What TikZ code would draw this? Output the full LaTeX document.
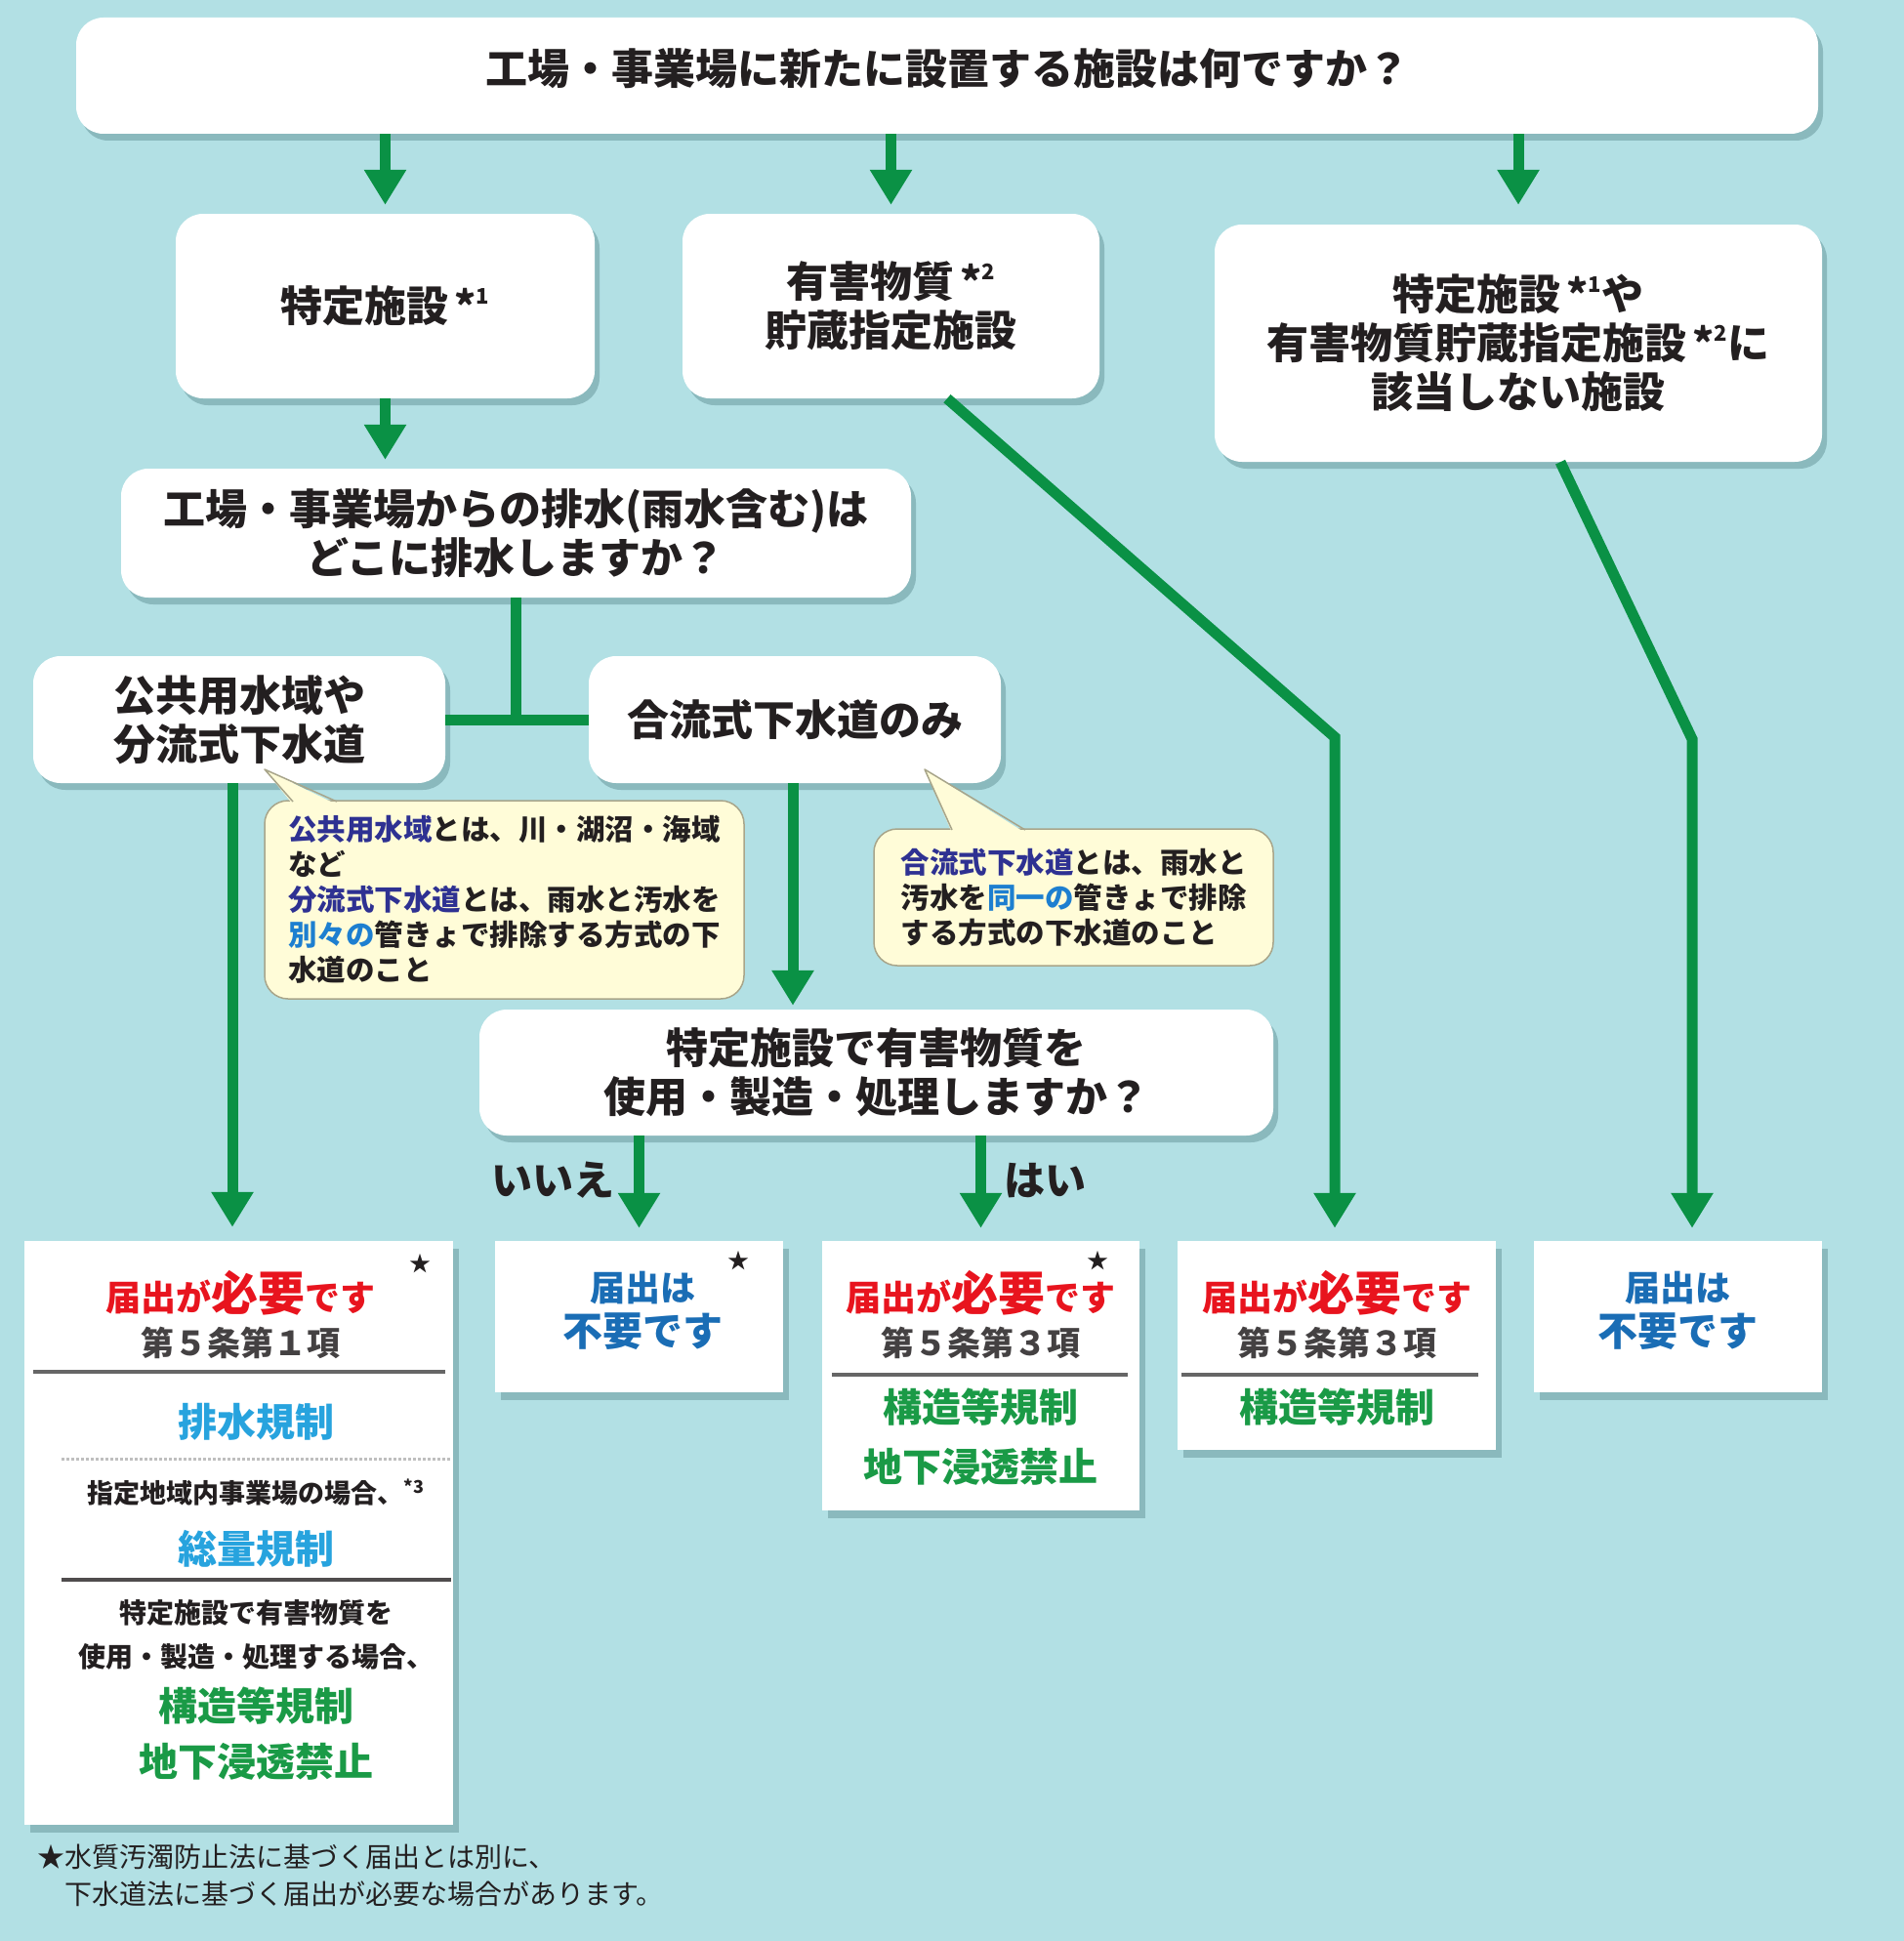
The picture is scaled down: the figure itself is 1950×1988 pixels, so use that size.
\documentclass[tikz,border=0pt]{standalone}
\usepackage{fontspec}
\setmainfont{Noto Sans CJK JP}
\usetikzlibrary{arrows.meta,shadows}
\definecolor{bg}{HTML}{B2E0E4}
\definecolor{grn}{HTML}{0A9145}
\definecolor{txt}{HTML}{231F20}
\definecolor{redt}{HTML}{E8141E}
\definecolor{bluet}{HTML}{1A6DB5}
\definecolor{lblue}{HTML}{27A3DE}
\definecolor{grnt}{HTML}{1A9A46}
\definecolor{navy}{HTML}{2E3192}
\definecolor{mblue}{HTML}{1D7FD0}
\definecolor{cfill}{HTML}{FFFCD8}
\definecolor{cborder}{HTML}{A8A58A}
\definecolor{shad}{HTML}{2F5F66}
\newcommand\fsz[2]{\fontsize{#1pt}{#2pt}\selectfont}
\newcommand\mk[1]{\hspace{6pt}{\fsz{42}{42}*}\raisebox{18pt}{\fsz{22}{22}#1}}
\newcommand\reqd{{\fsz{36}{40}届出が}{\fsz{48}{50}必要}{\fsz{36}{40}です}}
\tikzset{
  rbox/.style={fill=white, rounded corners=28pt, align=center, inner sep=0pt,
    drop shadow={shadow xshift=5pt, shadow yshift=-7pt, opacity=.3, fill=shad},
    text=txt, font=\fsz{43}{50}\bfseries},
  sbox/.style={fill=white, inner sep=0pt,
    drop shadow={shadow xshift=6pt, shadow yshift=-8pt, opacity=.3, fill=shad}},
  cbox/.style={fill=cfill, draw=cborder, line width=1.5pt, rounded corners=24pt,
    inner sep=0pt, align=left, text=txt},
  arr/.style={draw=grn, line width=11pt, -{Triangle[width=41pt,length=36pt]}},
  ln/.style={draw=grn, line width=11pt},
  lab/.style={inner sep=0pt, align=center, text=txt},
  sep/.style={draw=gray!80!black, line width=4pt},
}
\begin{document}
\begin{tikzpicture}[x=1pt,y=-1pt]
\useasboundingbox (0,0) rectangle (1950,1988);
\fill[bg] (0,0) rectangle (1950,1988);

% question boxes
\node[rbox, minimum width=1784pt, minimum height=119pt] (top) at (970,77.5) {\raisebox{-9.5pt}[0pt][0pt]{工場・事業場に新たに設置する施設は何ですか？}};
\node[rbox, minimum width=429pt, minimum height=189pt] (A) at (394.5,313.5) {特定施設\mk{1}};
\node[rbox, minimum width=427pt, minimum height=189pt] (B) at (912.5,313.5) {有害物質\mk{2}\\貯蔵指定施設};
\node[rbox, minimum width=622pt, minimum height=243pt] (C) at (1555,351.5) {特定施設\mk{1}や\\有害物質貯蔵指定施設\mk{2}に\\該当しない施設};
\node[rbox, minimum width=809pt, minimum height=132pt] (D) at (528.5,546) {工場・事業場からの排水(雨水含む)は\\どこに排水しますか？};
\node[rbox, minimum width=422pt, minimum height=130pt] (E) at (245,737) {公共用水域や\\分流式下水道};
\node[rbox, minimum width=422pt, minimum height=130pt] (F) at (814,737) {合流式下水道のみ};
\node[rbox, minimum width=813pt, minimum height=129pt] (G) at (897.5,1098.5) {特定施設で有害物質を\\使用・製造・処理しますか？};

% callouts
\node[cbox, minimum width=491pt, minimum height=203pt, font=\fsz{29.5}{36}\bfseries] (c1) at (516.5,921.5)
 {{\color{navy}公共用水域}とは、川・湖沼・海域\\など\\{\color{navy}分流式下水道}とは、雨水と汚水を\\{\color{mblue}別々の}管きょで排除する方式の下\\水道のこと};
\coordinate (c1tip) at (271,788);
\coordinate (c1a) at (300,821);
\coordinate (c1b) at (345,821);
\fill[cfill] ([yshift=-3pt]c1a) -- (c1tip) -- ([yshift=-3pt]c1b) -- cycle;
\draw[cborder, line width=1.5pt, line join=round] (c1a) -- (c1tip) -- (c1b);

\node[cbox, minimum width=409pt, minimum height=140pt, font=\fsz{29.5}{36}\bfseries] (c2) at (1099.5,919)
 {{\color{navy}合流式下水道}とは、雨水と\\汚水を{\color{mblue}同一の}管きょで排除\\する方式の下水道のこと};
\coordinate (c2tip) at (947,788);
\coordinate (c2a) at (975,850);
\coordinate (c2b) at (1050,850);
\fill[cfill] ([yshift=-3pt]c2a) -- (c2tip) -- ([yshift=-3pt]c2b) -- cycle;
\draw[cborder, line width=1.5pt, line join=round] (c2a) -- (c2tip) -- (c2b);

% result boxes
\node[sbox, minimum width=439pt, minimum height=598pt] (R1) at (244.5,1570) {};
\node[sbox, minimum width=295pt, minimum height=155pt] (R2) at (654.5,1348.5) {};
\node[sbox, minimum width=325pt, minimum height=276pt] (R3) at (1004.5,1409) {};
\node[sbox, minimum width=326pt, minimum height=214pt] (R4) at (1369,1378) {};
\node[sbox, minimum width=295pt, minimum height=155pt] (R5) at (1718.5,1348.5) {};

% R1 contents
\node[lab, font=\fsz{22}{22}] (s1) at (430,1294) {★};
\node[lab, text=redt, font=\bfseries] (r1a) at (246,1324) {\reqd};
\node[lab, text=txt!85, font=\fsz{34}{40}\bfseries] (r1b) at (246,1375) {第５条第１項};
\draw[sep] (34,1405) -- (456,1405);
\node[lab, text=lblue, font=\fsz{40}{44}\bfseries] (r1c) at (262,1456) {排水規制};
\draw[gray!50, line width=3pt, dotted] (63,1494) -- (462,1494);
\node[lab, font=\fsz{27}{30}\bfseries] (r1d) at (262,1529) {指定地域内事業場の場合、\raisebox{10pt}{\fsz{18}{18}*3}};
\node[lab, text=lblue, font=\fsz{40}{44}\bfseries] (r1e) at (262,1586) {総量規制};
\draw[draw=txt!80, line width=4pt] (63,1618) -- (462,1618);
\node[lab, font=\fsz{28}{45}\bfseries] (r1f) at (262,1674.5) {特定施設で有害物質を\\使用・製造・処理する場合、};
\node[lab, text=grnt, font=\fsz{40}{57}\bfseries] (r1g) at (262,1775.5) {構造等規制\\地下浸透禁止};

% R2 contents
\node[lab, font=\fsz{22}{22}] (s2) at (756,1291) {★};
\node[lab, text=bluet, font=\bfseries] (r2a) at (658,1342) {{\fsz{36}{40}届出は}\\[8pt]{\fsz{41}{44}不要です}};

% R3 contents
\node[lab, font=\fsz{22}{22}] (s3) at (1124,1291) {★};
\node[lab, text=redt, font=\bfseries] (r3a) at (1004,1324) {\reqd};
\node[lab, text=txt!85, font=\fsz{34}{40}\bfseries] (r3b) at (1004,1375) {第５条第３項};
\draw[sep] (852,1408) -- (1155,1408);
\node[lab, text=grnt, font=\fsz{40}{61}\bfseries] (r3c) at (1004,1471.5) {構造等規制\\地下浸透禁止};

% R4 contents
\node[lab, text=redt, font=\bfseries] (r4a) at (1369,1324) {\reqd};
\node[lab, text=txt!85, font=\fsz{34}{40}\bfseries] (r4b) at (1369,1375) {第５条第３項};
\draw[sep] (1210,1408) -- (1514,1408);
\node[lab, text=grnt, font=\fsz{40}{44}\bfseries] (r4c) at (1369,1441) {構造等規制};

% R5 contents
\node[lab, text=bluet, font=\bfseries] (r5a) at (1718,1342) {{\fsz{36}{40}届出は}\\[8pt]{\fsz{41}{44}不要です}};

% connectors
\draw[arr, shorten >=9pt] (top.south -| A.north) -- (A.north);
\draw[arr, shorten >=9pt] (top.south -| B.north) -- (B.north);
\draw[arr, shorten >=20pt] (top.south -| C.north) -- (C.north);
\draw[arr, shorten >=9pt] (A.south) -- (A.south |- D.north);
\draw[ln] (D.south) -- (D.south |- E.east);
\draw[ln] (E.east) -- (F.west);
\draw[arr, shorten >=14pt] ([xshift=-7pt]E.south) -- ([xshift=-7pt]E.south |- R1.north);
\draw[arr, shorten >=4pt] ([xshift=-2pt]F.south) -- ([xshift=-2pt]F.south |- G.north);
\draw[arr, shorten >=13pt] (R2.north |- G.south) -- (R2.north);
\draw[arr, shorten >=13pt] (R3.north |- G.south) -- (R3.north);
\coordinate (k1) at (1367,755);
\coordinate (k2) at (1733,757);
\draw[arr, shorten >=13pt, line join=miter] ([xshift=57.5pt]B.south) -- (k1) -- (k1 |- R4.north);
\draw[arr, shorten >=13pt, line join=miter] ([xshift=43pt]C.south) -- (k2) -- (k2 |- R5.north);

% labels
\node[lab, font=\fsz{42}{44}\bfseries] (no) at (566,1209) {いいえ};
\node[lab, font=\fsz{42}{44}\bfseries] (yes) at (1070,1209) {はい};

% footnote
\node[lab, anchor=west, align=left, font=\fsz{28}{38}] (foot) at (38,1921) {★水質汚濁防止法に基づく届出とは別に、\\\hspace*{28pt}下水道法に基づく届出が必要な場合があります。};
\end{tikzpicture}
\end{document}
